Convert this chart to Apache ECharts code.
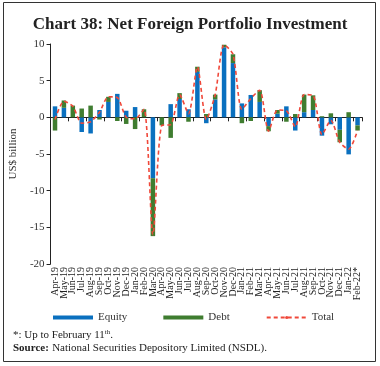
<!DOCTYPE html>
<html><head><meta charset="utf-8">
<script src="https://cdn.jsdelivr.net/npm/echarts@6/dist/echarts.min.js"></script>
<style>html,body{margin:0;padding:0;background:#fff}#c{width:380px;height:366px}</style>
</head><body><div id="c"></div>
<script>
var categories = ['Apr-19','May-19','Jun-19','Jul-19','Aug-19','Sep-19','Oct-19','Nov-19','Dec-19','Jan-20','Feb-20','Mar-20','Apr-20','May-20','Jun-20','Jul-20','Aug-20','Sep-20','Oct-20','Nov-20','Dec-20','Jan-21','Feb-21','Mar-21','Apr-21','May-21','Jun-21','Jul-21','Aug-21','Sep-21','Oct-21','Nov-21','Dec-21','Jan-22','Feb-22*'];
var equity = [1.5,1.3,0.0,-2.0,-2.2,1.0,2.1,3.2,0.9,1.4,0.0,-8.3,0.0,1.8,2.5,1.1,6.2,-0.8,2.45,9.55,7.4,1.9,3.05,2.1,-1.2,0.5,1.5,-1.8,0.7,1.0,-2.5,-0.95,-1.7,-5.05,-1.1];
var debt = [-1.8,1.0,1.6,1.2,1.6,-0.3,0.7,-0.5,-0.9,-1.6,1.1,-7.9,-1.1,-2.8,0.8,-0.6,0.7,0.45,0.65,0.35,1.2,-0.8,-0.5,1.6,-0.7,0.5,-0.6,0.45,2.4,2.0,0.15,0.55,-1.7,0.7,-0.7];
var total = [-0.3,2.2,1.5,-0.8,-0.6,0.7,2.8,2.7,0.0,-0.2,1.1,-16.0,-1.1,-1.0,3.1,0.5,6.9,-0.3,3.1,9.9,8.6,1.1,2.55,3.7,-1.9,1.0,0.9,-1.3,3.1,3.0,-2.35,-0.4,-3.4,-4.35,-1.8];
var yTicks = {min:-20, max:10, interval:5};

var serif = '"Liberation Serif","DejaVu Serif",serif';
var chart = echarts.init(document.getElementById('c'));
chart.setOption({
  animation:false,
  title:{text:'Chart 38: Net Foreign Portfolio Investment', left:'center', top:11,
    textStyle:{fontFamily:serif, fontSize:17, fontWeight:'bold', color:'#222'}},
  grid:{left:50, right:18, top:44, bottom:102},
  legend:{left:48, top:307, itemWidth:40, itemHeight:4, itemGap:36,
    textStyle:{fontFamily:serif, fontSize:11, color:'#333'},
    data:[{name:'Equity', icon:'rect'},{name:'Debt', icon:'rect'},{name:'Total'}]},
  xAxis:[
    {type:'category', data:categories, position:'bottom',
      axisLine:{show:false, onZero:false}, axisTick:{show:false},
      axisLabel:{rotate:90, interval:0, fontFamily:serif, fontSize:10, color:'#222', margin:3}},
    {type:'category', data:categories, position:'bottom',
      axisLine:{show:true, onZero:true, lineStyle:{color:'#222', width:1.2}},
      axisTick:{show:true, interval:1, length:4, lineStyle:{color:'#222'}},
      axisLabel:{show:false}}
  ],
  yAxis:{type:'value', min:yTicks.min, max:yTicks.max, interval:yTicks.interval,
    name:'US$ billion', nameLocation:'middle', nameGap:26,
    nameTextStyle:{fontFamily:serif, fontSize:11, color:'#333'},
    axisLine:{show:true, lineStyle:{color:'#222'}},
    axisTick:{show:true, length:4, lineStyle:{color:'#222'}},
    axisLabel:{fontFamily:serif, fontSize:11, color:'#333', margin:6},
    splitLine:{show:false}},
  series:[
    {name:'Equity', type:'bar', stack:'fpi', data:equity, barWidth:4.5,
      itemStyle:{color:'#0a70bf'}},
    {name:'Debt', type:'bar', stack:'fpi', data:debt, barWidth:4.5,
      itemStyle:{color:'#3f7d30'}},
    {name:'Total', type:'line', data:total, symbol:'none', smooth:0.25, z:5,
      lineStyle:{color:'#f0483a', width:1.6, type:[4,3]}, itemStyle:{color:'#f0483a'}}
  ],
  graphic:[
    {type:'rect', shape:{x:3.5, y:2.5, width:372, height:359}, style:{fill:'none', stroke:'#333', lineWidth:1}, silent:true},
    {type:'text', left:13, top:329, style:{
      text:'{n|*: Up to February 11}{s|th}{n|.}',
      rich:{n:{fontFamily:serif, fontSize:11, fill:'#222'}, s:{fontFamily:serif, fontSize:7, fill:'#222', verticalAlign:'top', padding:[0,0,6,0]}}}},
    {type:'text', left:13, top:342, style:{
      text:'{b|Source:} {n|National Securities Depository Limited (NSDL).}',
      rich:{b:{fontFamily:serif, fontSize:11, fontWeight:'bold', fill:'#222'}, n:{fontFamily:serif, fontSize:11, fill:'#222'}}}}
  ]
});
</script></body></html>
